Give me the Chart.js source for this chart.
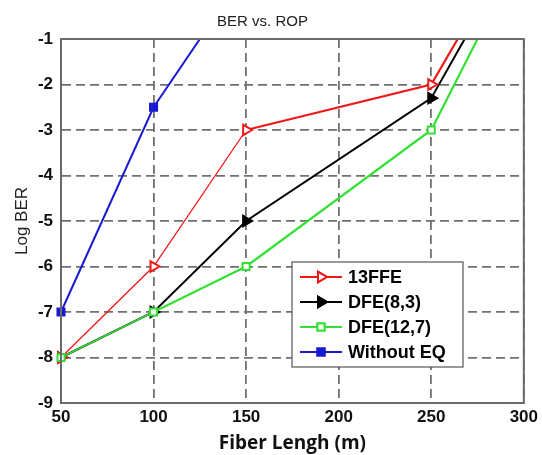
<!DOCTYPE html>
<html>
<head>
<meta charset="utf-8">
<script src="https://cdn.jsdelivr.net/npm/chart.js@4.4.0/dist/chart.umd.min.js"></script>
<style>
  html, body { margin: 0; padding: 0; background: #fff; }
  #wrap { width: 542px; height: 455px; }
</style>
</head>
<body>
<div id="wrap"><canvas id="berChart"></canvas></div>
<script>
// values (x in m, y in log BER)
const lengths13ffe = [50, 100, 150, 250, 300];
const ber13ffe = [-8, -6, -3, -2, 1.5];
const lengthsDfe83 = [50, 100, 150, 250, 300];
const berDfe83 = [-8, -7, -5, -2.3, 1.3];
const lengthsDfe127 = [50, 100, 150, 250, 300];
const berDfe127 = [-8, -7, -6, -3, 1];
const lengthsNoEq = [50, 100, 150];
const berNoEq = [-7, -2.5, 0.5];
const xTicks = [50, 100, 150, 200, 250, 300];
const yTicks = [-9, -8, -7, -6, -5, -4, -3, -2, -1];

const toPoints = (xs, ys) => xs.map((x, i) => ({ x: x, y: ys[i] }));

const red = "#f01818";
const black = "#000000";
const green = "#33e033";
const blue = "#1a1ad0";

const datasets = [
  {
    label: "Without EQ",
    data: toPoints(lengthsNoEq, berNoEq),
    borderColor: blue,
    backgroundColor: blue,
    pointStyle: "rect",
    pointRadius: 5,
    borderWidth: 2,
    order: 4,
  },
  {
    label: "DFE(8,3)",
    data: toPoints(lengthsDfe83, berDfe83),
    borderColor: black,
    backgroundColor: black,
    pointStyle: "triangle",
    pointRotation: 90,
    pointRadius: 6,
    borderWidth: 2,
    order: 3,
  },
  {
    label: "13FFE",
    data: toPoints(lengths13ffe, ber13ffe),
    borderColor: red,
    backgroundColor: "#ffffff",
    pointStyle: "triangle",
    pointRotation: 90,
    pointRadius: 6,
    pointBorderWidth: 2,
    borderWidth: 2,
    // the first two segments are drawn thinner in the figure
    segment: { borderWidth: (c) => (c.p0DataIndex < 2 ? 1.3 : 2.2) },
    order: 2,
  },
  {
    label: "DFE(12,7)",
    data: toPoints(lengthsDfe127, berDfe127),
    borderColor: green,
    backgroundColor: "#ffffff",
    pointStyle: "rect",
    pointRadius: 5,
    pointBorderWidth: 2,
    borderWidth: 2,
    segment: { borderWidth: (c) => (c.p0DataIndex < 1 ? 1.4 : 2.2) },
    order: 1,
  },
];
datasets.forEach((d) => {
  d.clip = { left: 10, bottom: 10, top: 0, right: 0 };
  d.tension = 0;
  d.showLine = true;
});

// order of the legend entries as in the figure
const legendOrder = ["13FFE", "DFE(8,3)", "DFE(12,7)", "Without EQ"];

const framePlugin = {
  id: "frame",
  afterDatasetsDraw(chart) {
    const a = chart.chartArea;
    const ctx = chart.ctx;
    ctx.save();
    ctx.strokeStyle = "#6a6a6a";
    ctx.lineWidth = 2;
    ctx.strokeRect(a.left, a.top, a.right - a.left, a.bottom - a.top);
    ctx.restore();
  },
};

const boxLegend = {
  id: "boxLegend",
  afterDraw(chart) {
    const ctx = chart.ctx;
    const x0 = 292, y0 = 262, w = 171, h = 105;
    ctx.save();
    ctx.fillStyle = "#ffffff";
    ctx.fillRect(x0, y0, w, h);
    ctx.strokeStyle = "#555";
    ctx.lineWidth = 1.2;
    ctx.strokeRect(x0, y0, w, h);
    ctx.font = "bold 18px 'Liberation Sans', Arial, sans-serif";
    ctx.textBaseline = "middle";
    legendOrder.forEach((name, i) => {
      const ds = chart.data.datasets.find((d) => d.label === name);
      const y = y0 + 15 + i * 25;
      ctx.strokeStyle = ds.borderColor;
      ctx.lineWidth = 2;
      ctx.beginPath();
      ctx.moveTo(x0 + 8, y);
      ctx.lineTo(x0 + 50, y);
      ctx.stroke();
      ctx.fillStyle = ds.backgroundColor;
      Chart.helpers.drawPoint(
        ctx,
        {
          pointStyle: ds.pointStyle,
          rotation: ds.pointRotation || 0,
          radius: ds.pointRadius,
          borderWidth: ds.pointBorderWidth || 2,
        },
        x0 + 29,
        y
      );
      ctx.fill();
      ctx.stroke();
      ctx.fillStyle = "#000";
      ctx.fillText(name, x0 + 56, y + 1);
    });
    ctx.restore();
  },
};

const tickFont = { family: "'Liberation Sans', Arial, sans-serif", size: 17, weight: "bold" };
const gridStyle = {
  color: "#707070",
  lineWidth: 1.8,
  drawTicks: false,
};

new Chart(document.getElementById("berChart"), {
  type: "scatter",
  data: { datasets: datasets },
  options: {
    responsive: true,
    maintainAspectRatio: false,
    animation: false,
    layout: { padding: { left: 0, right: 17, top: 0, bottom: 0 } },
    plugins: {
      legend: { display: false },
      tooltip: { enabled: false },
      title: {
        display: true,
        text: "BER vs. ROP",
        color: "#222",
        font: { family: "'Liberation Sans', Arial, sans-serif", size: 15, weight: "normal" },
        padding: { top: 13, bottom: 8 },
      },
    },
    scales: {
      x: {
        type: "linear",
        min: 50,
        max: 300,
        afterFit: (s) => { s.height = 52; },
        afterBuildTicks: (s) => { s.ticks = xTicks.map((v) => ({ value: v })); },
        ticks: { color: "#111", font: tickFont, padding: 4 },
        grid: gridStyle,
        border: { display: true, color: "#6a6a6a", width: 2, dash: [9, 5] },
        title: {
          display: true,
          text: "Fiber Lengh (m)",
          color: "#111",
          font: { family: "'Open Sans', sans-serif", size: 19, weight: "bold" },
          padding: { top: 0, bottom: 0 },
        },
      },
      y: {
        type: "linear",
        min: -9,
        max: -1,
        afterFit: (s) => { s.width = 61; },
        afterBuildTicks: (s) => { s.ticks = yTicks.map((v) => ({ value: v })); },
        ticks: { color: "#111", font: tickFont, padding: 8 },
        grid: gridStyle,
        border: { display: true, color: "#6a6a6a", width: 2, dash: [9, 5] },
        title: {
          display: true,
          text: "Log BER",
          color: "#222",
          font: { family: "'Liberation Sans', Arial, sans-serif", size: 17, weight: "normal" },
          padding: { top: 12, bottom: 0 },
        },
      },
    },
  },
  plugins: [framePlugin, boxLegend],
});
</script>
</body>
</html>
